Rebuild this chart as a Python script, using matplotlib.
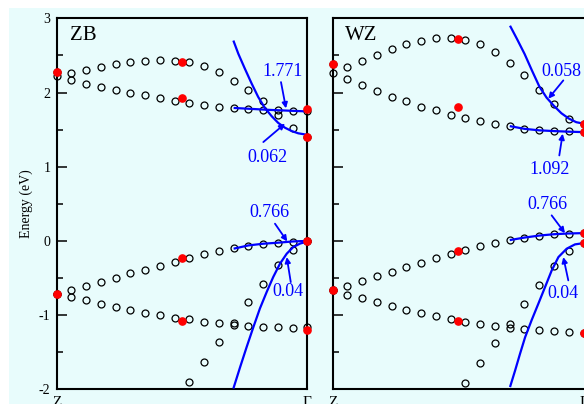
import numpy as np
import matplotlib
matplotlib.use("Agg")
import matplotlib.pyplot as plt
from matplotlib.patches import Rectangle
from matplotlib.ticker import MultipleLocator

plt.rcParams['font.family'] = ['Liberation Serif', 'DejaVu Serif']
plt.rcParams['axes.unicode_minus'] = False

# ---------------- data ----------------
kpath = np.linspace(0, 1, 18)          # k-points along Z -> Gamma
kpath_steep = kpath[9:]                # k-points of the steep valence band
xtick_pos = [0, 1]
xtick_labels = ['Z', 'Γ']
panel_titles = ['ZB', 'WZ']

# ZB bands (open circles)
zb_cb1 = [2.27, 2.26, 2.30, 2.34, 2.38, 2.41, 2.43, 2.44, 2.43, 2.41, 2.36, 2.27,
          2.16, 2.03, 1.88, 1.70, 1.52, 1.40]
zb_cb2 = [2.217, 2.163, 2.12, 2.07, 2.03, 1.99, 1.96, 1.92, 1.89, 1.86, 1.835, 1.81,
          1.795, 1.78, 1.76, 1.76, 1.75, 1.745]
zb_vb1 = [-0.712, -0.658, -0.609, -0.55, -0.496, -0.438, -0.388, -0.334, -0.28, -0.227,
          -0.182, -0.141, -0.101, -0.07, -0.047, -0.025, -0.011, 0.0]
zb_vb2 = [-0.712, -0.757, -0.80, -0.85, -0.89, -0.93, -0.97, -1.00, -1.035, -1.058,
          -1.09, -1.11, -1.13, -1.148, -1.157, -1.166, -1.17, -1.166]
zb_vb3 = [-1.90, -1.633, -1.364, -1.10, -0.83, -0.58, -0.33, -0.125, 0.0]

# ZB highlighted points (red)
zb_red_x = [0, 0, 0.5, 0.5, 0.5, 0.5, 1, 1, 1, 1]
zb_red_y = [2.27, -0.712, 2.415, 1.93, -0.236, -1.08, 1.78, 1.40, 0.0, -1.206]

# ZB fitted curves (blue)
zb_fit_cb_heavy_x = [0.706, 0.853, 1.0]
zb_fit_cb_heavy_y = [1.792, 1.765, 1.745]
zb_fit_cb_light_x = [0.705, 0.725, 0.751, 0.778, 0.804, 0.831, 0.858, 0.884, 0.911, 0.938, 0.964, 1.0]
zb_fit_cb_light_y = [2.70, 2.52, 2.32, 2.12, 1.94, 1.79, 1.68, 1.59, 1.525, 1.48, 1.45, 1.43]
zb_fit_vb_heavy_x = [0.706, 0.765, 0.824, 0.884, 0.944, 1.0]
zb_fit_vb_heavy_y = [-0.105, -0.061, -0.038, -0.024, -0.007, 0.0]
zb_fit_vb_light_x = [0.705, 0.732, 0.758, 0.785, 0.811, 0.838, 0.864, 0.891, 0.918, 0.944, 0.972, 1.0]
zb_fit_vb_light_y = [-1.99, -1.70, -1.43, -1.16, -0.91, -0.688, -0.487, -0.307, -0.172, -0.083, -0.035, -0.01]

# WZ bands (open circles)
wz_cb1 = [2.38, 2.34, 2.42, 2.50, 2.58, 2.65, 2.70, 2.73, 2.74, 2.71, 2.65, 2.545,
          2.40, 2.23, 2.04, 1.84, 1.647, 1.58]
wz_cb2 = [2.26, 2.177, 2.096, 2.02, 1.94, 1.88, 1.81, 1.76, 1.70, 1.65, 1.61, 1.574,
          1.547, 1.51, 1.49, 1.48, 1.475, 1.47]
wz_vb1 = [-0.658, -0.604, -0.54, -0.478, -0.415, -0.353, -0.294, -0.236, -0.178, -0.124,
          -0.074, -0.03, 0.016, 0.043, 0.07, 0.088, 0.097, 0.105]
wz_vb2 = [-0.658, -0.725, -0.775, -0.83, -0.883, -0.927, -0.973, -1.017, -1.058, -1.094,
          -1.125, -1.148, -1.17, -1.19, -1.206, -1.22, -1.229, -1.237]
wz_vb3 = [-1.92, -1.647, -1.38, -1.116, -0.846, -0.59, -0.344, -0.137, -0.03]

# WZ highlighted points (red)
wz_red_x = [0, 0, 0.5, 0.5, 0.5, 0.5, 1, 1, 1, 1, 1]
wz_red_y = [2.38, -0.658, 2.725, 1.80, -0.142, -1.085, 1.58, 1.47, 0.105, -0.03, -1.237]

# WZ fitted curves (blue)
wz_fit_cb_light_x = [0.707, 0.735, 0.765, 0.794, 0.824, 0.853, 0.882, 0.912, 0.941, 0.971, 1.0]
wz_fit_cb_light_y = [2.90, 2.72, 2.52, 2.30, 2.08, 1.93, 1.82, 1.72, 1.65, 1.60, 1.58]
wz_fit_cb_heavy_x = [0.706, 0.765, 0.824, 0.882, 0.941, 1.0]
wz_fit_cb_heavy_y = [1.547, 1.51, 1.49, 1.48, 1.472, 1.466]
wz_fit_vb_heavy_x = [0.706, 0.765, 0.824, 0.882, 0.941, 1.0]
wz_fit_vb_heavy_y = [0.011, 0.045, 0.072, 0.09, 0.10, 0.105]
wz_fit_vb_light_x = [0.707, 0.727, 0.747, 0.767, 0.793, 0.820, 0.847, 0.873, 0.900, 0.933, 0.966, 1.0]
wz_fit_vb_light_y = [-1.97, -1.75, -1.52, -1.30, -1.07, -0.846, -0.62, -0.40, -0.218, -0.105, -0.047, -0.03]

# effective-mass labels
zb_mass_labels = ['1.771', '0.062', '0.766', '0.04']
wz_mass_labels = ['0.058', '1.092', '0.766', '0.04']

# ---------------- styling / layout ----------------
W, H = 584, 404
BG = '#e8fcfc'
fig = plt.figure(figsize=(W / 100, H / 100), dpi=100, facecolor='white')
fig.add_artist(Rectangle((9 / W, 0), 1, 1 - 7.5 / H, transform=fig.transFigure,
                         facecolor=BG, edgecolor='none', zorder=-10))

bottom = (H - 389.3) / H
height = 371 / H
ax1 = fig.add_axes([56.7 / W, bottom, 250.6 / W, height])
ax2 = fig.add_axes([332.7 / W, bottom, 250.8 / W, height])

panels = [
    dict(ax=ax1, bands=[zb_cb1, zb_cb2, zb_vb1, zb_vb2], steep=zb_vb3,
         red=(zb_red_x, zb_red_y),
         fits=[(zb_fit_cb_heavy_x, zb_fit_cb_heavy_y), (zb_fit_cb_light_x, zb_fit_cb_light_y),
               (zb_fit_vb_heavy_x, zb_fit_vb_heavy_y), (zb_fit_vb_light_x, zb_fit_vb_light_y)],
         labels=zb_mass_labels,
         label_pos=[(0.903, 2.217), (0.842, 1.062), (0.849, 0.321), (0.924, -0.748)],
         arrows=[((0.895, 2.14), (0.915, 1.786)), ((0.8245, 1.332), (0.911, 1.58)),
                 ((0.871, 0.232), (0.920, -0.007)), ((0.934, -0.555), (0.918, -0.218))],
         title_x=0.053),
    dict(ax=ax2, bands=[wz_cb1, wz_cb2, wz_vb1, wz_vb2], steep=wz_vb3,
         red=(wz_red_x, wz_red_y),
         fits=[(wz_fit_cb_heavy_x, wz_fit_cb_heavy_y), (wz_fit_cb_light_x, wz_fit_cb_light_y),
               (wz_fit_vb_heavy_x, wz_fit_vb_heavy_y), (wz_fit_vb_light_x, wz_fit_vb_light_y)],
         labels=wz_mass_labels,
         label_pos=[(0.9115, 2.217), (0.866, 0.896), (0.858, 0.431), (0.9196, -0.765)],
         arrows=[((0.9195, 2.163), (0.8597, 1.916)), ((0.9035, 1.152), (0.917, 1.445)),
                 ((0.873, 0.344), (0.926, 0.105)), ((0.9394, -0.532), (0.9195, -0.218))],
         title_x=0.049),
]

BLUE = '#0000ff'
for i, p in enumerate(panels):
    ax = p['ax']
    ax.set_facecolor(BG)
    ax.set_xlim(0, 1)
    ax.set_ylim(-2, 3)
    for b in p['bands']:
        ax.plot(kpath, b, 'o', ms=5.0, mfc='none', mec='black', mew=0.9, zorder=2, clip_on=False)
    ax.plot(kpath_steep, p['steep'], 'o', ms=5.0, mfc='none', mec='black', mew=0.9, zorder=2,
            clip_on=False)
    for fx, fy in p['fits']:
        ax.plot(fx, fy, '-', color=BLUE, lw=1.6, zorder=3, solid_capstyle='butt')
    ax.plot(p['red'][0], p['red'][1], 'o', ms=5.2, color='red', mec='red', zorder=4, clip_on=False)
    for lab, (tx, ty), (tail, head) in zip(p['labels'], p['label_pos'], p['arrows']):
        ax.text(tx, ty, lab, color=BLUE, fontsize=13, ha='center', va='baseline', zorder=5)
        ax.annotate('', xy=head, xytext=tail,
                    arrowprops=dict(arrowstyle='-|>', color=BLUE, lw=1.3,
                                    mutation_scale=8, shrinkA=0, shrinkB=0), zorder=5)
    ax.text(p['title_x'], 2.71, panel_titles[i], fontsize=15, ha='left', va='baseline')

    ax.yaxis.set_major_locator(MultipleLocator(1))
    ax.yaxis.set_minor_locator(MultipleLocator(0.5))
    ax.tick_params(axis='y', which='major', direction='in', length=7, width=1.1,
                   labelsize=10, pad=4.5, right=False)
    ax.tick_params(axis='y', which='minor', direction='in', length=4.5, width=1.1, right=False)
    ax.set_xticks(xtick_pos)
    ax.set_xticklabels(xtick_labels)
    ax.tick_params(axis='x', which='both', length=0, labelsize=11, pad=5, top=False)
    for s in ax.spines.values():
        s.set_linewidth(1.5)
    if i == 1:
        ax.tick_params(axis='y', labelleft=False)
        ax.spines['right'].set_visible(False)

fig.text(26 / W, 1 - 204 / H, 'Energy (eV)', rotation=90, ha='center', va='center', fontsize=10)

fig.savefig('out.png', dpi=100, facecolor=fig.get_facecolor())
